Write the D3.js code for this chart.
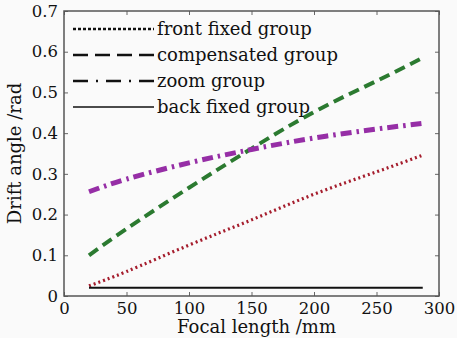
<!DOCTYPE html>
<html lang="en">
  <head>
    <meta charset="utf-8">
    <title>drift angle vs focal length</title>
    <script type="text/javascript" src="https://d3js.org/d3.v7.min.js"></script>
    <style>
      body { margin: 0; background: #fafafa; }
      text { font-family: "DejaVu Serif", serif; fill: #111; }
    </style>
  </head>
  <body>
    <svg id="chart"></svg>
    <script type="text/javascript">

    // DATA
    const focal = [20, 50, 100, 150, 200, 250, 287];
    const frontFixed = [0.025, 0.06, 0.125, 0.187, 0.25, 0.305, 0.346];
    const compensated = [0.10, 0.165, 0.266, 0.362, 0.452, 0.528, 0.585];
    const zoomGroup = [0.256, 0.287, 0.327, 0.36, 0.388, 0.41, 0.424];
    const backFixed = [0.02, 0.02, 0.02, 0.02, 0.02, 0.02, 0.02];

    const xTicks = [0, 50, 100, 150, 200, 250, 300];
    const yTicks = [0, 0.1, 0.2, 0.3, 0.4, 0.5, 0.6, 0.7];

    const seriesNames = ['front fixed group', 'compensated group', 'zoom group', 'back fixed group'];

    // DIMENSIONS
    const width = 457, height = 338;
    const margin = { top: 11, right: 18, bottom: 42, left: 64 };

    const svg = d3.select('#chart')
      .attr('width', width)
      .attr('height', height);

    const x = d3.scaleLinear().domain([0, 300]).range([margin.left, width - margin.right]);
    const y = d3.scaleLinear().domain([0, 0.7]).range([height - margin.bottom, margin.top]);

    // styles per series
    const styles = [
      { color: '#a51d2d', w: 3.2, dash: '2,3', legendDash: '3,2' },
      { color: '#2b7a30', w: 4, dash: '11,6', legendDash: '15,7' },
      { color: '#962ea6', w: 5, dash: '11,5,2.5,5', legendDash: '15,8,2,8' },
      { color: '#111', w: 2, dash: null, legendDash: null }
    ];

    const allSeries = [frontFixed, compensated, zoomGroup, backFixed];

    // AXES (inward ticks on every side)
    const tickLen = 4;
    svg.append('g')
      .attr('transform', `translate(0,${y(0)})`)
      .call(d3.axisBottom(x).tickValues(xTicks).tickSize(-tickLen).tickPadding(6).tickFormat(d3.format('d')))
      .call(g => g.select('.domain').remove())
      .attr('class', 'xaxis');

    svg.append('g')
      .attr('transform', `translate(0,${y(0.7)})`)
      .call(d3.axisTop(x).tickValues(xTicks).tickSize(-tickLen).tickFormat(''))
      .call(g => g.select('.domain').remove());

    svg.append('g')
      .attr('transform', `translate(${x(0)},0)`)
      .call(d3.axisLeft(y).tickValues(yTicks).tickSize(-tickLen).tickPadding(6).tickFormat(d => d === 0 ? '0' : d3.format('.1f')(d)))
      .call(g => g.select('.domain').remove())
      .attr('class', 'yaxis');

    svg.append('g')
      .attr('transform', `translate(${x(300)},0)`)
      .call(d3.axisRight(y).tickValues(yTicks).tickSize(-tickLen).tickFormat(''))
      .call(g => g.select('.domain').remove());

    svg.selectAll('.tick line').attr('stroke', '#666');
    svg.selectAll('.tick text')
      .style('font-family', '"DejaVu Serif", serif')
      .style('font-size', '16.5px')
      .attr('fill', '#111');

    // frame
    svg.append('rect')
      .attr('x', x(0))
      .attr('y', y(0.7))
      .attr('width', x(300) - x(0))
      .attr('height', y(0) - y(0.7))
      .attr('fill', 'none')
      .attr('stroke', '#555')
      .attr('stroke-width', 1.5);

    // LINES
    const line = d3.line()
      .x((d, i) => x(focal[i]))
      .y(d => y(d))
      .curve(d3.curveNatural);

    allSeries.forEach((s, k) => {
      svg.append('path')
        .datum(s)
        .attr('d', line)
        .attr('fill', 'none')
        .attr('stroke', styles[k].color)
        .attr('stroke-width', styles[k].w)
        .attr('stroke-dasharray', styles[k].dash);
    });

    // LEGEND
    const legend = svg.append('g').attr('class', 'legend');
    seriesNames.forEach((name, k) => {
      const ly = 29 + k * 26;
      legend.append('line')
        .attr('x1', 73).attr('x2', 154)
        .attr('y1', ly).attr('y2', ly)
        .attr('stroke', '#111')
        .attr('stroke-width', k === 3 ? 1.3 : 2.5)
        .attr('stroke-dasharray', styles[k].legendDash);
      legend.append('text')
        .text(name)
        .attr('x', 157)
        .attr('y', ly + 6)
        .style('font-size', '18px');
    });

    // AXIS TITLES
    svg.append('text')
      .text('Focal length /mm')
      .attr('x', (x(0) + x(300)) / 2 + 5)
      .attr('y', 333)
      .attr('text-anchor', 'middle')
      .style('font-size', '18px');

    svg.append('text')
      .text('Drift angle /rad')
      .attr('transform', `translate(21,${(y(0) + y(0.7)) / 2}) rotate(-90)`)
      .attr('text-anchor', 'middle')
      .style('font-size', '18px');

    </script>
  </body>
</html>
